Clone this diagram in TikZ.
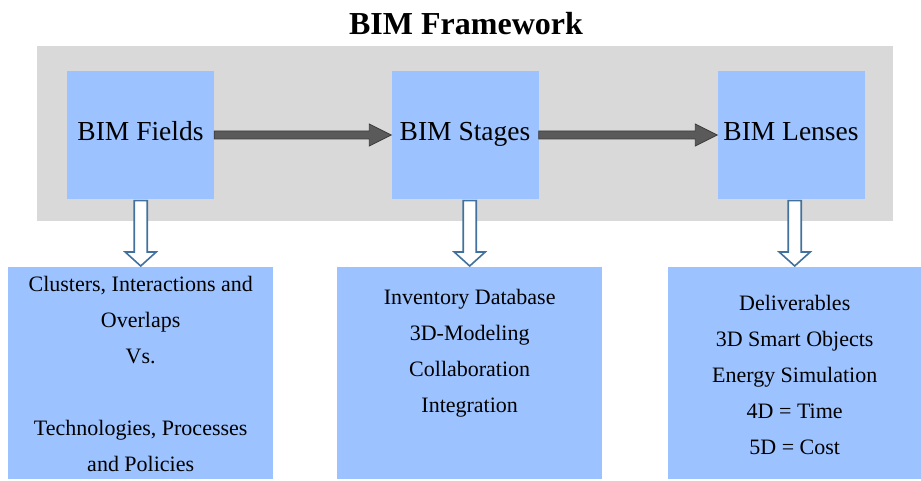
\documentclass[tikz,border=0pt]{standalone}
\usepackage{fontspec}
\setmainfont{Liberation Serif}
\usetikzlibrary{calc}
\definecolor{panelgrey}{HTML}{D9D9D9}
\definecolor{boxblue}{HTML}{9CC3FF}
\definecolor{shaftgrey}{HTML}{5A5A5A}
\definecolor{shaftedge}{HTML}{3C3C3C}
\definecolor{outlineblue}{HTML}{41719C}
\tikzset{
  topbox/.style={fill=boxblue, draw=none, minimum width=147pt, minimum height=128pt,
    inner sep=0pt, text height=19pt, text depth=7pt, font=\fontsize{27.5}{30}\selectfont},
  lowbox/.style={fill=boxblue, draw=none, minimum height=212pt, inner sep=0pt},
  lowtext/.style={align=center, inner sep=0pt, font=\fontsize{22}{36}\selectfont},
  greyarrow/.style={fill=shaftgrey, draw=shaftedge, line width=0.8pt, line join=miter},
  hollowarrow/.style={fill=white, draw=outlineblue, line width=1.6pt, line join=miter},
}
% thick grey block arrow from the east side of #1 to the west side of #2
\newcommand\rightblock[2]{%
  \draw[greyarrow] let \p1=(#1.east), \p2=(#2.west) in
    (\x1,\y1+4pt) -- (\x2-22pt,\y1+4pt) -- (\x2-22pt,\y1+11pt) -- (\x2,\y1)
    -- (\x2-22pt,\y1-11pt) -- (\x2-22pt,\y1-4pt) -- (\x1,\y1-4pt) -- cycle;}
% hollow outlined arrow from the bottom of #1 down to the top of #2
\newcommand\downblock[2]{%
  \draw[hollowarrow] let \p1=(#1.south), \p2=(#2.north) in
    (\x2-6.5pt,\y1-1.5pt) -- (\x2+6.5pt,\y1-1.5pt) -- (\x2+6.5pt,\y2+15pt)
    -- (\x2+15.5pt,\y2+15pt) -- (\x2,\y2+1pt) -- (\x2-15.5pt,\y2+15pt)
    -- (\x2-6.5pt,\y2+15pt) -- cycle;}
\begin{document}
\begin{tikzpicture}[x=1pt,y=-1pt]
  \useasboundingbox (0,0) rectangle (921,481);
  \fill[white] (0,0) rectangle (921,481);

  % title and grey panel
  \node[font=\fontsize{32}{36}\selectfont\bfseries] (title) at (466,24) {BIM Framework};
  \node[fill=panelgrey, minimum width=856pt, minimum height=175pt, inner sep=0pt,
        anchor=north west] (panel) at (37,46) {};

  % top row
  \node[topbox] (fields) at (140.5,135) {BIM Fields};
  \node[topbox] (stages) at (465,135) {BIM Stages};
  \node[topbox] (lenses) at (791,135) {BIM Lenses};

  \rightblock{fields}{stages}
  \rightblock{stages}{lenses}

  % bottom row
  \node[lowbox, minimum width=265pt, anchor=north west] (cluster) at (8,267) {};
  \node[lowbox, minimum width=265pt, anchor=north west] (inventory) at (337,267) {};
  \node[lowbox, minimum width=253pt, anchor=north west] (deliver) at (668,267) {};

  \node[lowtext] (clustertext) at ($(cluster.north)+(0,107)$)
    {Clusters, Interactions and\\Overlaps\\Vs.\\[36pt]Technologies, Processes\\and Policies};
  \node[lowtext] (inventorytext) at ($(inventory.north)+(0,86)$)
    {Inventory Database\\3D-Modeling\\Collaboration\\Integration};
  \node[lowtext] (delivertext) at ($(deliver.north)+(0,108)$)
    {Deliverables\\3D Smart Objects\\Energy Simulation\\4D = Time\\5D = Cost};

  \downblock{fields}{cluster}
  \downblock{stages}{inventory}
  \downblock{lenses}{deliver}
\end{tikzpicture}
\end{document}
